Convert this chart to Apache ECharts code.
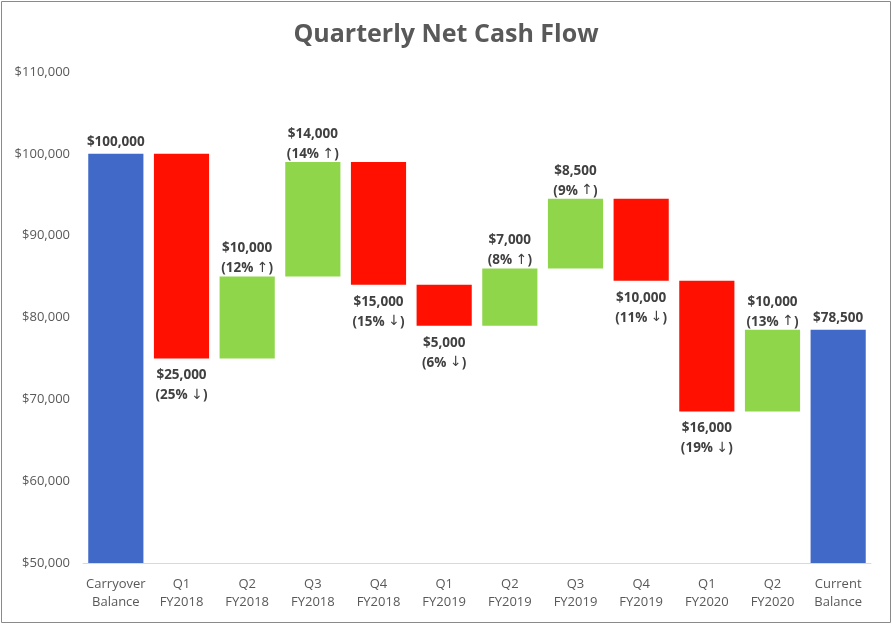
<!DOCTYPE html>
<html><head><meta charset="utf-8">
<script src="https://cdn.jsdelivr.net/npm/echarts@6/dist/echarts.min.js"></script>
<style>html,body{margin:0;padding:0;background:#fff}#c{width:892px;height:624px}</style>
</head><body><div id="c"></div>
<script>
const categories = ['Carryover\nBalance','Q1\nFY2018','Q2\nFY2018','Q3\nFY2018','Q4\nFY2018','Q1\nFY2019','Q2\nFY2019','Q3\nFY2019','Q4\nFY2019','Q1\nFY2020','Q2\nFY2020','Current\nBalance'];
const startBalance = 100000;
const changes = [-25000, 10000, 14000, -15000, -5000, 7000, 8500, -10000, -16000, 10000];
const changePct = [25, 12, 14, 15, 6, 8, 9, 11, 19, 13];
const endBalance = 78500;
const yTicks = [50000, 60000, 70000, 80000, 90000, 100000, 110000];

const BLUE = '#4169c8', RED = '#ff1000', GREEN = '#8fd64b', LBL = '#404040';
const fmt = v => '$' + v.toLocaleString('en-US');

const base = [], vis = [];
base.push(0);
vis.push({value: startBalance, itemStyle:{color:BLUE}, label:{show:true, position:'top', distance: 2, formatter: fmt(startBalance)}});
let run = startBalance;
changes.forEach((d, i) => {
  const next = run + d;
  const up = d > 0;
  base.push(Math.min(run, next));
  vis.push({
    value: Math.abs(d),
    itemStyle: {color: up ? GREEN : RED},
    label: {show: true, position: up ? 'top' : 'bottom', distance: up ? -2 : 7,
      formatter: fmt(Math.abs(d)) + '\n(' + changePct[i] + '% {a|' + (up ? '↑' : '↓') + '})'}
  });
  run = next;
});
base.push(0);
vis.push({value: endBalance, itemStyle:{color:BLUE}, label:{show:true, position:'top', distance: 2, formatter: fmt(endBalance)}});

const chart = echarts.init(document.getElementById('c'));
chart.setOption({
  animation: false,
  backgroundColor: '#fff',
  title: {text: 'Quarterly Net Cash Flow', left: 'center', top: 17,
    textStyle: {fontFamily: 'Open Sans', fontSize: 25, fontWeight: 'bold', color: '#595959'}},
  grid: {left: 83, right: 21, top: 72, bottom: 61},
  graphic: [{type:'rect', shape:{x:1.5, y:1.5, width:889, height:621}, style:{fill:null, stroke:'#8a8a8a', lineWidth:1}, z: 100}],
  xAxis: {type: 'category', data: categories,
    axisLine: {lineStyle: {color: '#d9d9d9'}}, axisTick: {show: false},
    axisLabel: {color: '#595959', fontFamily: 'Open Sans', fontSize: 13, lineHeight: 18, margin: 12, interval: 0}},
  yAxis: {type: 'value', min: yTicks[0], max: yTicks[yTicks.length-1], interval: 10000,
    axisLine: {show: false}, axisTick: {show: false}, splitLine: {show: false},
    axisLabel: {color: '#595959', fontFamily: 'Open Sans', fontSize: 13, margin: 13, formatter: v => fmt(v)}},
  series: [
    {type: 'bar', stack: 'w', data: base, itemStyle: {color: 'transparent'}, barCategoryGap: '16%', silent: true},
    {type: 'bar', stack: 'w', data: vis, barCategoryGap: '16%',
      label: {color: LBL, fontFamily: 'Open Sans', fontWeight: 'bold', fontSize: 13.5, lineHeight: 20,
        rich: {a: {fontFamily: 'DejaVu Sans', fontWeight: 'normal', fontSize: 14, color: LBL, lineHeight: 20}}}}
  ]
});
</script></body></html>
